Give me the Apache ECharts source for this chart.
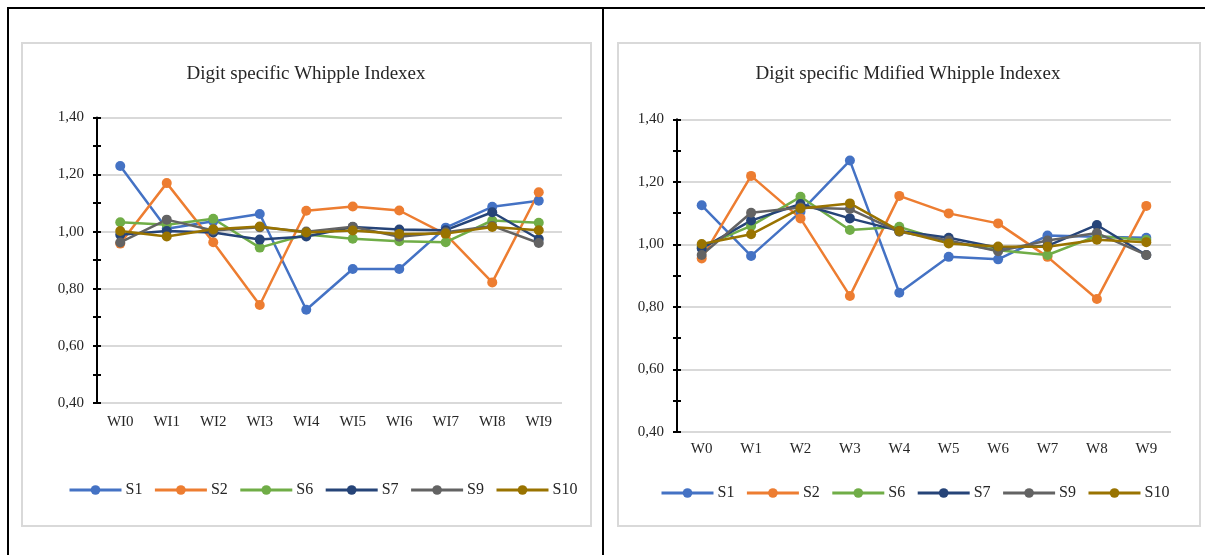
<!DOCTYPE html>
<html>
<head>
<meta charset="utf-8">
<script src="https://cdn.jsdelivr.net/npm/echarts@6/dist/echarts.min.js"></script>
<style>
  html, body { margin: 0; padding: 0; background: #fff; }
  #wrap { position: relative; width: 1205px; height: 555px; overflow: hidden; background: #fff; }
  .ln { position: absolute; background: #000; }
  .frame { position: absolute; border: 2px solid #d9d9d9; box-sizing: border-box; }
  #chart { position: absolute; left: 0; top: 0; width: 1205px; height: 555px; }
</style>
</head>
<body>
<div id="wrap">
  <div class="ln" style="left:7px; top:7px; width:1198px; height:2px;"></div>
  <div class="ln" style="left:7px; top:7px; width:2px; height:548px;"></div>
  <div class="ln" style="left:602px; top:7px; width:2px; height:548px;"></div>
  <div class="frame" style="left:21px; top:42px; width:571px; height:485px;"></div>
  <div class="frame" style="left:617px; top:42px; width:584px; height:485px;"></div>
  <div id="chart"></div>
</div>
<script>
// ---- data ----
const seriesNames = ['S1', 'S2', 'S6', 'S7', 'S9', 'S10'];
const seriesColors = ['#4472C4', '#ED7D31', '#70AD47', '#264478', '#636363', '#997300'];

const leftTitle = 'Digit specific Whipple Indexex';
const leftCategories = ['WI0', 'WI1', 'WI2', 'WI3', 'WI4', 'WI5', 'WI6', 'WI7', 'WI8', 'WI9'];
const leftS1  = [1.23, 1.01, 1.036, 1.062, 0.726, 0.869, 0.869, 1.014, 1.087, 1.108];
const leftS2  = [0.958, 1.170, 0.963, 0.743, 1.073, 1.088, 1.074, 0.99, 0.822, 1.138];
const leftS6  = [1.033, 1.024, 1.045, 0.944, 0.99, 0.975, 0.966, 0.963, 1.039, 1.031];
const leftS7  = [0.989, 1.002, 0.997, 0.972, 0.983, 1.016, 1.007, 1.005, 1.068, 0.974];
const leftS9  = [0.962, 1.042, 1.004, 1.015, 1.0, 1.017, 0.982, 0.998, 1.02, 0.960];
const leftS10 = [1.002, 0.983, 1.008, 1.018, 0.997, 1.004, 0.992, 0.993, 1.016, 1.005];

const rightTitle = 'Digit specific Mdified Whipple Indexex';
const rightCategories = ['W0', 'W1', 'W2', 'W3', 'W4', 'W5', 'W6', 'W7', 'W8', 'W9'];
const rightS1  = [1.125, 0.963, 1.104, 1.268, 0.845, 0.960, 0.952, 1.028, 1.024, 1.021];
const rightS2  = [0.955, 1.219, 1.083, 0.835, 1.155, 1.099, 1.067, 0.960, 0.825, 1.123];
const rightS6  = [0.992, 1.059, 1.152, 1.046, 1.056, 1.008, 0.981, 0.966, 1.027, 1.014];
const rightS7  = [0.987, 1.076, 1.129, 1.083, 1.043, 1.021, 0.989, 0.995, 1.062, 0.966];
const rightS9  = [0.966, 1.101, 1.118, 1.113, 1.040, 1.012, 0.978, 1.012, 1.036, 0.966];
const rightS10 = [1.001, 1.032, 1.115, 1.131, 1.043, 1.003, 0.993, 0.992, 1.015, 1.007];

const yTicks = { min: 0.4, max: 1.4, major: 0.2, minor: 0.1 };

// ---- chart ----
const leftData = [leftS1, leftS2, leftS6, leftS7, leftS9, leftS10];
const rightData = [rightS1, rightS2, rightS6, rightS7, rightS9, rightS10];
const FONT = '"Liberation Serif", "Times New Roman", serif';
const TXT = '#262626';

function yAxes(gridIndex) {
  return [
    {
      type: 'value', gridIndex: gridIndex, min: yTicks.min, max: yTicks.max, interval: yTicks.major,
      axisLine: { show: true, lineStyle: { color: '#000', width: 2 } },
      axisTick: { show: true, length: 4, lineStyle: { color: '#000', width: 2 } },
      minorTick: { show: true, splitNumber: 2, length: 4, lineStyle: { color: '#000', width: 2 } },
      splitLine: { show: true, lineStyle: { color: '#d9d9d9', width: 2 } },
      axisLabel: { margin: 13, fontFamily: FONT, fontSize: 15, color: TXT,
        formatter: v => v.toFixed(2).replace('.', ',') }
    },
    {
      type: 'value', gridIndex: gridIndex, min: yTicks.min, max: yTicks.max, interval: yTicks.minor,
      position: 'left',
      axisLine: { show: false },
      axisTick: { show: true, inside: true, length: 4, lineStyle: { color: '#000', width: 2 } },
      splitLine: { show: false },
      axisLabel: { show: false }
    }
  ];
}

function xAxis(gridIndex, cats, margin) {
  return {
    type: 'category', gridIndex: gridIndex, data: cats, boundaryGap: true,
    axisLine: { show: false }, axisTick: { show: false },
    axisLabel: { margin: margin, fontFamily: FONT, fontSize: 15, color: TXT }
  };
}

function makeSeries(dataSet, xi, yi) {
  return seriesNames.map((n, i) => ({
    name: n, type: 'line', xAxisIndex: xi, yAxisIndex: yi,
    data: dataSet[i], symbol: 'circle', symbolSize: 10,
    color: seriesColors[i],
    lineStyle: { width: 2.5, color: seriesColors[i] },
    itemStyle: { color: seriesColors[i] },
    emphasis: { disabled: true }, animation: false
  }));
}

function legend(left, top) {
  return {
    data: seriesNames, left: left, top: top, padding: 0,
    itemWidth: 52, itemHeight: 12, itemGap: 11,
    lineStyle: { width: 3 },
    textStyle: { fontFamily: FONT, fontSize: 16, color: TXT, padding: [0, 0, 0, -1] },
    selectedMode: false
  };
}

const chart = echarts.init(document.getElementById('chart'), null, { renderer: 'canvas' });
chart.setOption({
  backgroundColor: 'transparent',
  animation: false,
  title: [
    { text: leftTitle, left: 306, top: 65, textAlign: 'center', padding: 0,
      textStyle: { fontFamily: FONT, fontSize: 19, fontWeight: 'normal', color: TXT } },
    { text: rightTitle, left: 908, top: 65, textAlign: 'center', padding: 0,
      textStyle: { fontFamily: FONT, fontSize: 19, fontWeight: 'normal', color: TXT } }
  ],
  legend: [legend(68, 482), legend(660, 485)],
  grid: [
    { left: 97, top: 117.5, width: 465, height: 285.3 },
    { left: 677, top: 119.3, width: 494, height: 312.6 }
  ],
  xAxis: [xAxis(0, leftCategories, 12), xAxis(1, rightCategories, 10)],
  yAxis: yAxes(0).concat(yAxes(1)),
  series: makeSeries(leftData, 0, 0).concat(makeSeries(rightData, 1, 2))
});
</script>
</body>
</html>
